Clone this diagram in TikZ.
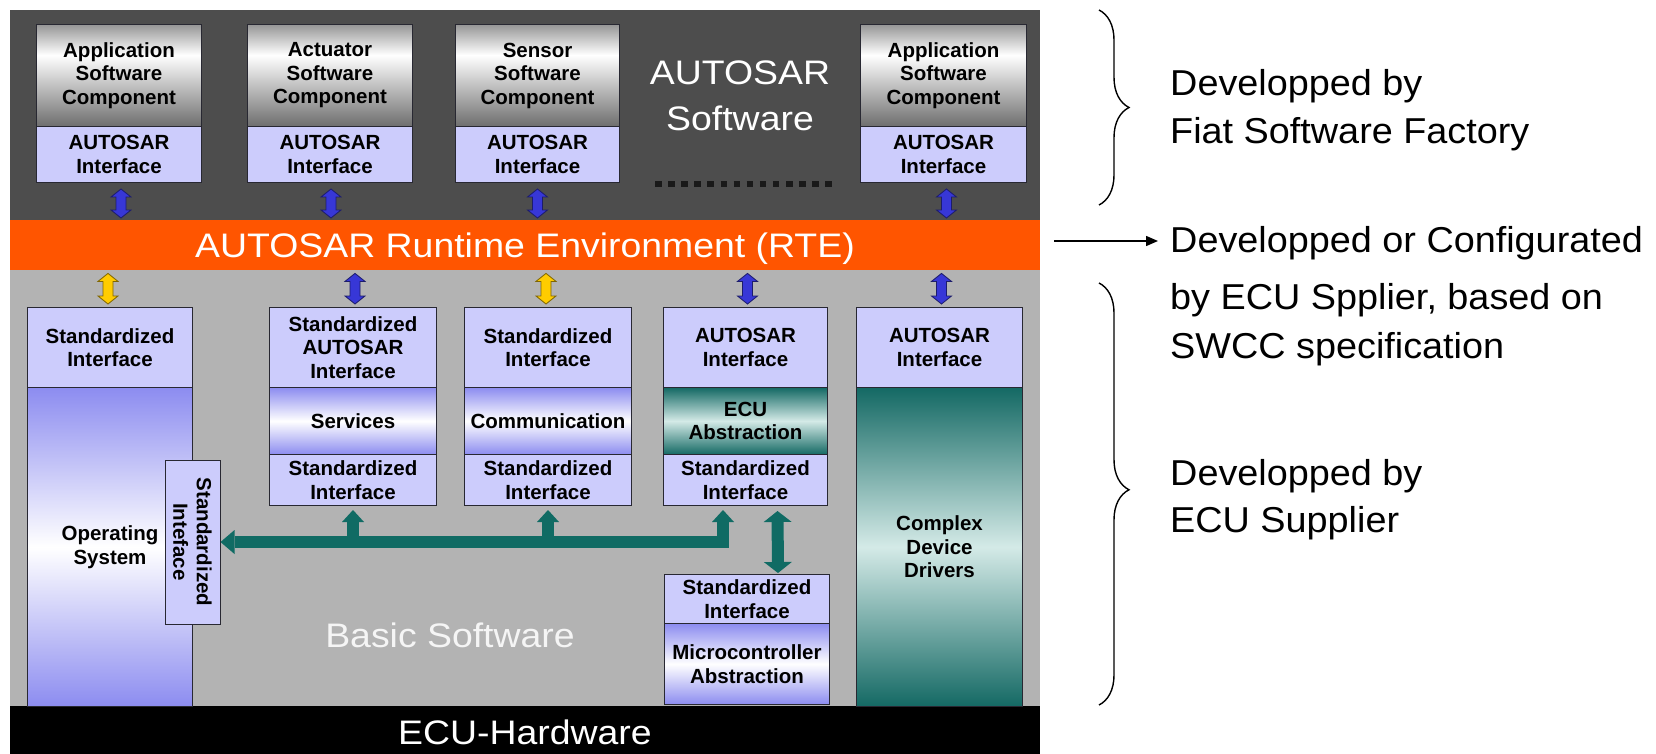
\documentclass[tikz,border=0pt]{standalone}
\usepackage{fontspec}
\setmainfont{Liberation Sans}
\newfontfamily\wideF[FakeStretch=1.1]{Liberation Sans}
\newfontfamily\sideF[FakeStretch=1.05]{Liberation Sans}
\usetikzlibrary{arrows.meta,calc,decorations.pathreplacing}

\definecolor{panelDark}{RGB}{77,77,77}
\definecolor{rteOrange}{RGB}{255,85,0}
\definecolor{panelLight}{RGB}{179,179,179}
\definecolor{lav}{RGB}{204,204,252}
\definecolor{peri}{RGB}{140,140,240}
\definecolor{tealD}{RGB}{20,105,100}
\definecolor{tealL}{RGB}{212,234,231}
\definecolor{busTeal}{RGB}{16,107,100}
\definecolor{arrBlue}{RGB}{55,55,215}
\definecolor{arrYellow}{RGB}{255,204,0}
\definecolor{compTop}{RGB}{150,150,150}
\definecolor{compBot}{RGB}{110,110,110}
\definecolor{boxLine}{RGB}{40,40,50}

\pgfdeclareverticalshading{compshade}{100bp}{color(0bp)=(compBot); color(25bp)=(compBot); color(60bp)=(white); color(75bp)=(compTop); color(100bp)=(compTop)}

\newcommand\udarrow[3]{%
  \filldraw[draw=#3!50!black, fill=#3, line width=0.8pt]
  let \p1=(#1), \p2=(#2) in
  (\x1,\y1) -- (\x1+10pt,\y1-8pt) -- (\x1+5pt,\y1-8pt) -- (\x1+5pt,\y2+8pt) --
  (\x1+10pt,\y2+8pt) -- (\x1,\y2) -- (\x1-10pt,\y2+8pt) -- (\x1-5pt,\y2+8pt) --
  (\x1-5pt,\y1-8pt) -- (\x1-10pt,\y1-8pt) -- cycle;}

\begin{document}
\begin{tikzpicture}[x=1pt,y=-1pt,
  lbl/.style={font=\fontsize{20.5}{23.5}\selectfont\bfseries, align=center, inner sep=0pt,
              draw=boxLine, line width=1pt, anchor=north west},
  iface/.style={lbl, fill=lav},
  comp/.style={lbl, shade, shading=compshade},
  periG/.style={lbl, top color=peri, bottom color=peri, middle color=white},
  tealG/.style={lbl, top color=tealD, bottom color=tealD, middle color=tealL},
  panel/.style={anchor=north west, inner sep=0pt, minimum width=1030pt},
  bigfont/.style={font=\wideF\fontsize{34}{46}\selectfont},
  bigtext/.style={bigfont, text=white, align=center},
  sidetext/.style={font=\sideF\fontsize{36}{40}\selectfont, anchor=base west, inner sep=0pt},
  bus/.style={draw=busTeal, line width=12pt},
  bracestyle/.style={decorate, decoration={brace, amplitude=30pt}, line width=1.4pt}
]
\useasboundingbox (0,0) rectangle (1656,754);
\fill[white] (0,0) rectangle (1656,754);

% panels
\node[panel, fill=panelDark, minimum height=210pt] (aswp) at (10,10) {};
\node[panel, fill=rteOrange, minimum height=50pt] (rte) at (10,220) {};
\node[bigfont, text=white, anchor=base] (rtetxt) at (525,257) {AUTOSAR Runtime Environment (RTE)};
\node[panel, fill=panelLight, minimum height=436pt] (bswp) at (10,270) {};
\node[panel, fill=black, minimum height=48pt] (hw) at (10,706) {};
\node[bigfont, text=white, anchor=base] (hwtxt) at (525,744) {ECU-Hardware};

\node[bigtext] (aswtxt) at (740,96) {AUTOSAR\\Software};
\node[bigfont, text=white!92!gray, anchor=base] (bswtxt) at (450,647) {Basic Software};

% top components
\node[comp, minimum width=165pt, minimum height=102pt] (c1) at (36,24) {Application\\Software\\Component};
\node[iface, minimum width=165pt, minimum height=56pt] (i1) at (36,126) {AUTOSAR\\Interface};
\node[comp, minimum width=165pt, minimum height=102pt] (c2) at (247,24) {Actuator\\Software\\Component};
\node[iface, minimum width=165pt, minimum height=56pt] (i2) at (247,126) {AUTOSAR\\Interface};
\node[comp, minimum width=164pt, minimum height=102pt] (c3) at (455,24) {Sensor\\Software\\Component};
\node[iface, minimum width=164pt, minimum height=56pt] (i3) at (455,126) {AUTOSAR\\Interface};
\node[comp, minimum width=166pt, minimum height=102pt] (c4) at (860,24) {Application\\Software\\Component};
\node[iface, minimum width=166pt, minimum height=56pt] (i4) at (860,126) {AUTOSAR\\Interface};

\draw[line width=6.5pt, dash pattern=on 6.5pt off 6.6pt, color=black!90] (655,184) -- (834,184);

% lower columns
\node[iface, minimum width=165pt, minimum height=80pt] (s1) at (27,307) {Standardized\\Interface};
\node[periG, minimum width=165pt, minimum height=319pt] (os) at (27,387) {Operating\\System};
\node[iface, rotate=-90, anchor=center, minimum width=164pt, minimum height=55pt] (osi) at (192.5,542) {Standardized\\Inteface};

\node[iface, minimum width=167pt, minimum height=80pt] (a2) at (269,307) {Standardized\\AUTOSAR\\Interface};
\node[periG, minimum width=167pt, minimum height=67pt] (sv) at (269,387) {Services};
\node[iface, minimum width=167pt, minimum height=51pt] (b2) at (269,454) {Standardized\\Interface};

\node[iface, minimum width=167pt, minimum height=80pt] (a3) at (464,307) {Standardized\\Interface};
\node[periG, minimum width=167pt, minimum height=67pt] (cm) at (464,387) {Communication};
\node[iface, minimum width=167pt, minimum height=51pt] (b3) at (464,454) {Standardized\\Interface};

\node[iface, minimum width=164pt, minimum height=80pt] (a4) at (663,307) {AUTOSAR\\Interface};
\node[tealG, minimum width=164pt, minimum height=67pt] (ea) at (663,387) {ECU\\Abstraction};
\node[iface, minimum width=164pt, minimum height=51pt] (b4) at (663,454) {Standardized\\Interface};

\node[iface, minimum width=166pt, minimum height=80pt] (a5) at (856,307) {AUTOSAR\\Interface};
\node[tealG, minimum width=166pt, minimum height=319pt] (cdd) at (856,387) {Complex\\Device\\Drivers};

\node[iface, minimum width=165pt, minimum height=49pt] (mi) at (664,574) {Standardized\\Interface};
\node[periG, minimum width=165pt, minimum height=81pt] (ma) at (664,623) {Microcontroller\\Abstraction};

% small double arrows to/from RTE
\udarrow{$(i1.south)+(2,6)$}{$(i1.south |- rte.north)+(2,-2)$}{arrBlue}
\udarrow{$(i2.south)+(1,6)$}{$(i2.south |- rte.north)+(1,-2)$}{arrBlue}
\udarrow{$(i3.south)+(0,6)$}{$(i3.south |- rte.north)+(0,-2)$}{arrBlue}
\udarrow{$(i4.south)+(3,6)$}{$(i4.south |- rte.north)+(3,-2)$}{arrBlue}
\udarrow{$(s1.north |- rte.south)+(-2,3)$}{$(s1.north)+(-2,-3)$}{arrYellow}
\udarrow{$(a2.north |- rte.south)+(2,3)$}{$(a2.north)+(2,-3)$}{arrBlue}
\udarrow{$(a3.north |- rte.south)+(-2,3)$}{$(a3.north)+(-2,-3)$}{arrYellow}
\udarrow{$(a4.north |- rte.south)+(2,3)$}{$(a4.north)+(2,-3)$}{arrBlue}
\udarrow{$(a5.north |- rte.south)+(2,3)$}{$(a5.north)+(2,-3)$}{arrBlue}

% teal bus
\draw[bus, {Triangle[length=12pt,width=22pt,line width=0pt]}-{Triangle[length=14pt,width=24pt,line width=0pt]}]
  ($(b4.south west)+(60,4)$) |- (osi.north);
\draw[bus, -{Triangle[length=12pt,width=22pt,line width=0pt]}] (b2.south |- osi.north) -- ($(b2.south)+(0,4)$);
\draw[bus, -{Triangle[length=12pt,width=22pt,line width=0pt]}] (b3.south |- osi.north) -- ($(b3.south)+(0,4)$);
\draw[bus, {Triangle[length=11pt,width=28pt,line width=0pt]}-{Triangle[length=11pt,width=28pt,line width=0pt]}]
  ($(b4.south)+(32,5)$) -- ($(mi.north)+(31,-1)$);

% right-hand annotations
\coordinate (br1a) at (1099,10);
\coordinate (br1b) at (1099,205);
\coordinate (br2a) at (1099,283);
\coordinate (br2b) at (1099,705);
\draw[bracestyle] (br1a) -- (br1b);
\draw[bracestyle, decoration={brace, amplitude=30pt, aspect=0.49}] (br2a) -- (br2b);

\node[sidetext] (t1) at (1170,96) {Developped by};
\node[sidetext] (t2) at (1170,144) {Fiat Software Factory};
\node[sidetext] (t3) at (1170,252) {Developped or Configurated};
\node[sidetext] (t4) at (1170,309) {by ECU Spplier, based on};
\node[sidetext] (t5) at (1170,358) {SWCC specification};
\node[sidetext] (t6) at (1170,485) {Developped by};
\node[sidetext] (t7) at (1170,532) {ECU Supplier};

\coordinate (arrS) at (1054,241);
\draw[line width=1.5pt, -{Triangle[length=12pt,width=10pt]}] (arrS) -- ($(t3.west |- arrS)+(-12,0)$);
\end{tikzpicture}
\end{document}
